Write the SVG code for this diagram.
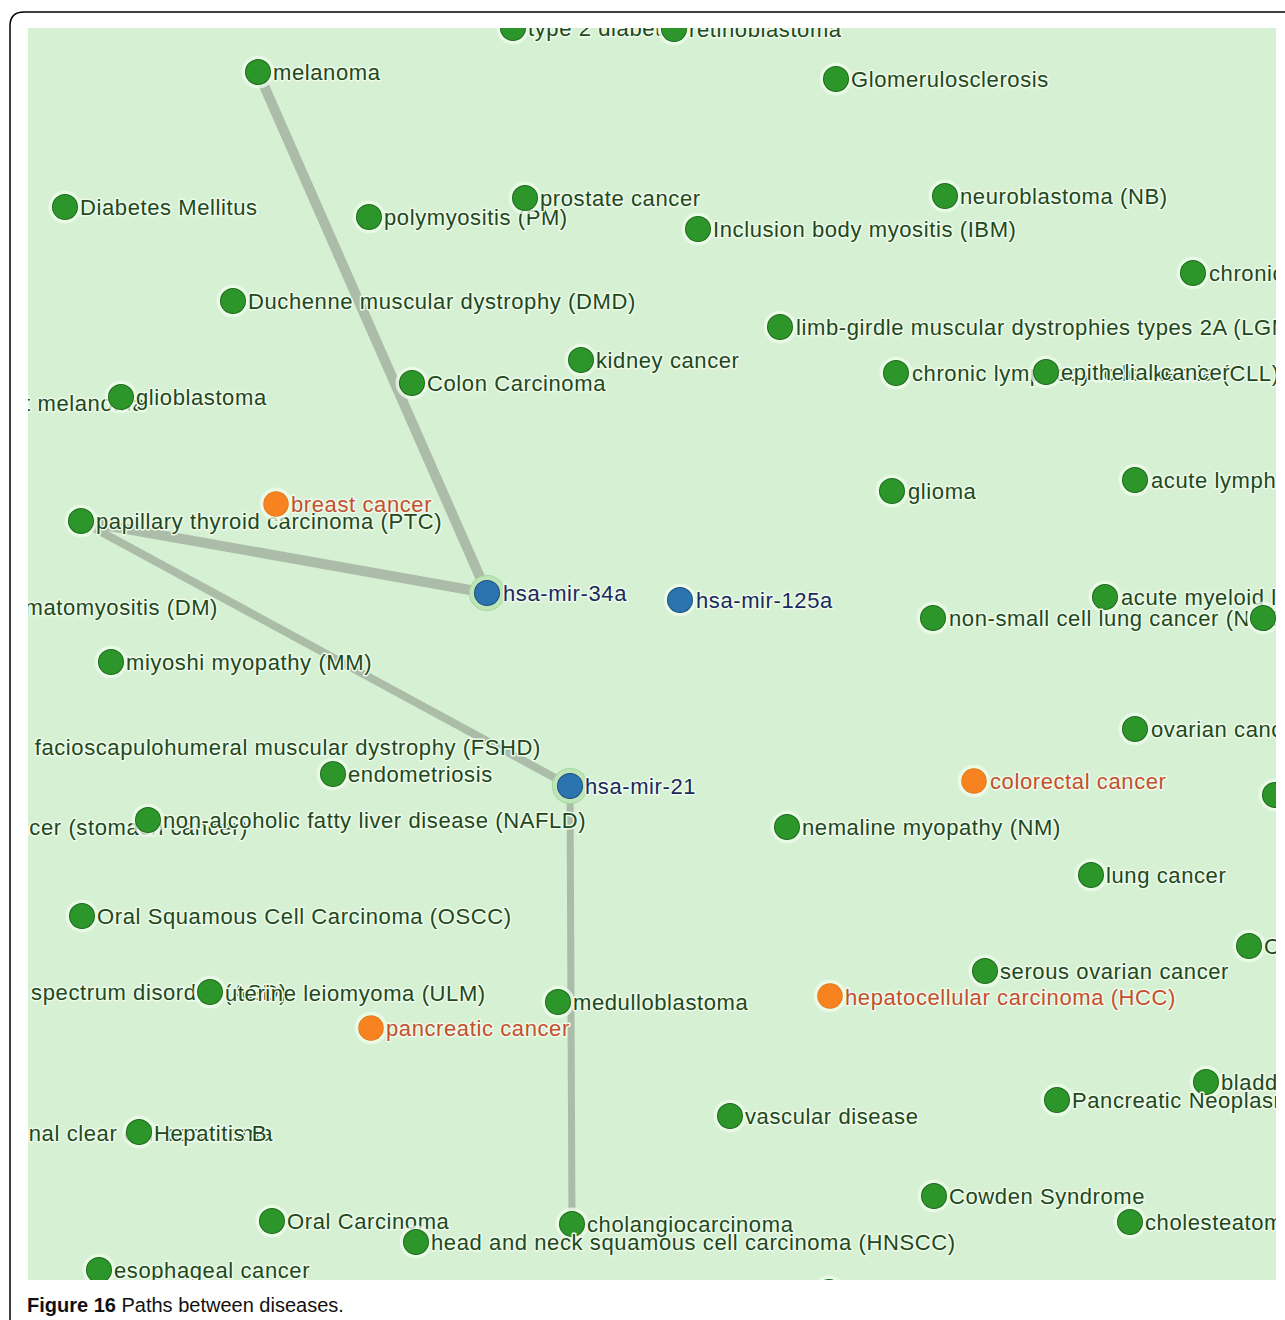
<svg xmlns="http://www.w3.org/2000/svg" width="1285" height="1320" viewBox="0 0 1285 1320">
<style>
.lbl{font-family:"Liberation Sans",Arial,sans-serif;font-size:22px;letter-spacing:0.6px;paint-order:stroke;stroke:#eefbea;stroke-width:3px;stroke-linejoin:round}
.g text{fill:#22481d}
.o text{fill:#c4502e}
.b text{fill:#1b2a5c}
.g circle.n{fill:#2d962b;stroke:#1c6a1a;stroke-width:2}
.o circle.n{fill:#f6831f;stroke:#e07414;stroke-width:1.5}
.b circle.n{fill:#2c74b0;stroke:#1d4e7c;stroke-width:2}
circle.h{fill:#f2fff0;opacity:.75}
circle.r{fill:#bfe6b8;stroke:#a6d9a0;stroke-width:2}
.e{stroke:#a9b8a5;stroke-linecap:round;fill:none;opacity:.95}
.cap{font-family:"Liberation Sans",Arial,sans-serif;font-size:20px;fill:#111}
</style>
<defs>
<clipPath id="area"><rect x="28" y="28" width="1248" height="1252"/></clipPath>
</defs>
<rect width="1285" height="1320" fill="#fff"/>
<path d="M10,1320 V26 Q10,12 24,12 H1285" fill="none" stroke="#000" stroke-width="1.5"/>
<rect x="28" y="28" width="1248" height="1252" fill="#d5f0d3"/>
<g clip-path="url(#area)">
<g id="connectors">
<line class="e" x1="258" y1="72" x2="487" y2="593" stroke-width="10"/>
<line class="e" x1="81" y1="521" x2="487" y2="593" stroke-width="10"/>
<line class="e" x1="81" y1="521" x2="570" y2="786" stroke-width="8"/>
<line class="e" x1="570" y1="786" x2="572" y2="1224" stroke-width="7"/>
</g>
<g class="lbl">
<g id="n-type2" class="g"><circle class="h" cx="513" cy="28" r="15"/><circle class="n" cx="513" cy="28" r="12"/><text x="528" y="36">type 2 diabetes</text></g>
<g id="n-retino" class="g"><circle class="h" cx="674" cy="29" r="15"/><circle class="n" cx="674" cy="29" r="12"/><text x="689" y="37">retinoblastoma</text></g>
<g id="n-melanoma" class="g"><circle class="h" cx="258" cy="72" r="15"/><circle class="n" cx="258" cy="72" r="12"/><text x="273" y="80">melanoma</text></g>
<g id="n-glomerulo" class="g"><circle class="h" cx="836" cy="79" r="15"/><circle class="n" cx="836" cy="79" r="12"/><text x="851" y="87">Glomerulosclerosis</text></g>
<g id="n-diabetes" class="g"><circle class="h" cx="65" cy="207" r="15"/><circle class="n" cx="65" cy="207" r="12"/><text x="80" y="215">Diabetes Mellitus</text></g>
<g id="n-polymyositis" class="g"><circle class="h" cx="369" cy="217" r="15"/><circle class="n" cx="369" cy="217" r="12"/><text x="384" y="225">polymyositis (PM)</text></g>
<g id="n-prostate" class="g"><circle class="h" cx="525" cy="198" r="15"/><circle class="n" cx="525" cy="198" r="12"/><text x="540" y="206">prostate cancer</text></g>
<g id="n-neuroblastoma" class="g"><circle class="h" cx="945" cy="196" r="15"/><circle class="n" cx="945" cy="196" r="12"/><text x="960" y="204">neuroblastoma (NB)</text></g>
<g id="n-ibm" class="g"><circle class="h" cx="698" cy="229" r="15"/><circle class="n" cx="698" cy="229" r="12"/><text x="713" y="237">Inclusion body myositis (IBM)</text></g>
<g id="n-chroni" class="g"><circle class="h" cx="1193" cy="273" r="15"/><circle class="n" cx="1193" cy="273" r="12"/><text x="1209" y="281">chronic</text></g>
<g id="n-dmd" class="g"><circle class="h" cx="233" cy="301" r="15"/><circle class="n" cx="233" cy="301" r="12"/><text x="248" y="309">Duchenne muscular dystrophy (DMD)</text></g>
<g id="n-lgmd" class="g"><circle class="h" cx="780" cy="327" r="15"/><circle class="n" cx="780" cy="327" r="12"/><text x="796" y="335">limb-girdle muscular dystrophies types 2A (LGMD2A)</text></g>
<g id="n-kidney" class="g"><circle class="h" cx="581" cy="360" r="15"/><circle class="n" cx="581" cy="360" r="12"/><text x="596" y="368">kidney cancer</text></g>
<g id="n-colon" class="g"><circle class="h" cx="412" cy="383" r="15"/><circle class="n" cx="412" cy="383" r="12"/><text x="427" y="391">Colon Carcinoma</text></g>
<g id="n-cll" class="g"><circle class="h" cx="896" cy="373" r="15"/><circle class="n" cx="896" cy="373" r="12"/><text x="912" y="381">chronic lymphocytic leukemia (CLL)</text></g>
<g id="n-epithelial" class="g"><circle class="h" cx="1046" cy="372" r="15"/><circle class="n" cx="1046" cy="372" r="12"/><text x="1061" y="380">epithelial cancer</text></g>
<g id="n-malmelanoma" class="g"><text x="-70" y="411">malignant melanoma</text></g>
<g id="n-glioblastoma" class="g"><circle class="h" cx="121" cy="397" r="15"/><circle class="n" cx="121" cy="397" r="12"/><text x="136" y="405">glioblastoma</text></g>
<g id="n-glioma" class="g"><circle class="h" cx="892" cy="491" r="15"/><circle class="n" cx="892" cy="491" r="12"/><text x="908" y="499">glioma</text></g>
<g id="n-all" class="g"><circle class="h" cx="1135" cy="480" r="15"/><circle class="n" cx="1135" cy="480" r="12"/><text x="1151" y="488">acute lymphoblastic leukemia</text></g>
<g id="n-ptc" class="g"><circle class="h" cx="81" cy="521" r="15"/><circle class="n" cx="81" cy="521" r="12"/><text x="96" y="529">papillary thyroid carcinoma (PTC)</text></g>
<g id="n-breast" class="o"><circle class="h" cx="276" cy="504" r="15"/><circle class="n" cx="276" cy="504" r="12"/><text x="291" y="512">breast cancer</text></g>
<g id="n-aml" class="g"><circle class="h" cx="1105" cy="597" r="15"/><circle class="n" cx="1105" cy="597" r="12"/><text x="1121" y="605">acute myeloid leukemia</text></g>
<g id="n-nsclc" class="g"><circle class="h" cx="933" cy="618" r="15"/><circle class="n" cx="933" cy="618" r="12"/><text x="949" y="626">non-small cell lung cancer (NSCLC)</text></g>
<g id="n-edge1" class="g"><circle class="h" cx="1263" cy="618" r="15"/><circle class="n" cx="1263" cy="618" r="12"/></g>
<g id="n-dm" class="g"><text x="218" y="615" text-anchor="end">dermatomyositis (DM)</text></g>
<g id="n-mm" class="g"><circle class="h" cx="111" cy="662" r="15"/><circle class="n" cx="111" cy="662" r="12"/><text x="126" y="670">miyoshi myopathy (MM)</text></g>
<g id="n-fshd" class="g"><text x="541" y="755" text-anchor="end">facioscapulohumeral muscular dystrophy (FSHD)</text></g>
<g id="n-ovarian" class="g"><circle class="h" cx="1135" cy="729" r="15"/><circle class="n" cx="1135" cy="729" r="12"/><text x="1151" y="737">ovarian cancer</text></g>
<g id="n-endometriosis" class="g"><circle class="h" cx="333" cy="774" r="15"/><circle class="n" cx="333" cy="774" r="12"/><text x="348" y="782">endometriosis</text></g>
<g id="n-colorectal" class="o"><circle class="h" cx="974" cy="781" r="15"/><circle class="n" cx="974" cy="781" r="12"/><text x="990" y="789">colorectal cancer</text></g>
<g id="n-edge2" class="g"><circle class="h" cx="1275" cy="795" r="15"/><circle class="n" cx="1275" cy="795" r="12"/></g>
<g id="n-gastric" class="g"><text x="248" y="835" text-anchor="end">gastric cancer (stomach cancer)</text></g>
<g id="n-nafld" class="g"><circle class="h" cx="148" cy="820" r="15"/><circle class="n" cx="148" cy="820" r="12"/><text x="163" y="828">non-alcoholic fatty liver disease (NAFLD)</text></g>
<g id="n-nm" class="g"><circle class="h" cx="787" cy="827" r="15"/><circle class="n" cx="787" cy="827" r="12"/><text x="802" y="835">nemaline myopathy (NM)</text></g>
<g id="n-lung" class="g"><circle class="h" cx="1091" cy="875" r="15"/><circle class="n" cx="1091" cy="875" r="12"/><text x="1106" y="883">lung cancer</text></g>
<g id="n-oscc" class="g"><circle class="h" cx="82" cy="916" r="15"/><circle class="n" cx="82" cy="916" r="12"/><text x="97" y="924">Oral Squamous Cell Carcinoma (OSCC)</text></g>
<g id="n-cervical" class="g"><circle class="h" cx="1249" cy="946" r="15"/><circle class="n" cx="1249" cy="946" r="12"/><text x="1264" y="954">Cervical cancer</text></g>
<g id="n-serous" class="g"><circle class="h" cx="985" cy="971" r="15"/><circle class="n" cx="985" cy="971" r="12"/><text x="1000" y="979">serous ovarian cancer</text></g>
<g id="n-asd" class="g"><text x="287" y="1000" text-anchor="end">autism spectrum disorder (ASD)</text></g>
<g id="n-ulm" class="g"><circle class="h" cx="210" cy="992" r="15"/><circle class="n" cx="210" cy="992" r="12"/><text x="225" y="1001">uterine leiomyoma (ULM)</text></g>
<g id="n-medullo" class="g"><circle class="h" cx="558" cy="1002" r="15"/><circle class="n" cx="558" cy="1002" r="12"/><text x="573" y="1010">medulloblastoma</text></g>
<g id="n-hcc" class="o"><circle class="h" cx="830" cy="996" r="15"/><circle class="n" cx="830" cy="996" r="12"/><text x="845" y="1005">hepatocellular carcinoma (HCC)</text></g>
<g id="n-pancreatic" class="o"><circle class="h" cx="371" cy="1028" r="15"/><circle class="n" cx="371" cy="1028" r="12"/><text x="386" y="1036">pancreatic cancer</text></g>
<g id="n-bladder" class="g"><circle class="h" cx="1206" cy="1082" r="15"/><circle class="n" cx="1206" cy="1082" r="12"/><text x="1221" y="1090">bladder cancer</text></g>
<g id="n-pneo" class="g"><circle class="h" cx="1057" cy="1100" r="15"/><circle class="n" cx="1057" cy="1100" r="12"/><text x="1072" y="1108">Pancreatic Neoplasms</text></g>
<g id="n-vascular" class="g"><circle class="h" cx="730" cy="1116" r="15"/><circle class="n" cx="730" cy="1116" r="12"/><text x="745" y="1124">vascular disease</text></g>
<g id="n-rcc" class="g"><text x="8" y="1141">renal clear cell carcinoma</text></g>
<g id="n-hepb" class="g"><circle class="h" cx="139" cy="1132" r="15"/><circle class="n" cx="139" cy="1132" r="12"/><text x="154" y="1141">Hepatitis B</text></g>
<g id="n-cowden" class="g"><circle class="h" cx="934" cy="1196" r="15"/><circle class="n" cx="934" cy="1196" r="12"/><text x="949" y="1204">Cowden Syndrome</text></g>
<g id="n-cholest" class="g"><circle class="h" cx="1130" cy="1222" r="15"/><circle class="n" cx="1130" cy="1222" r="12"/><text x="1145" y="1230">cholesteatoma</text></g>
<g id="n-oralcarc" class="g"><circle class="h" cx="272" cy="1221" r="15"/><circle class="n" cx="272" cy="1221" r="12"/><text x="287" y="1229">Oral Carcinoma</text></g>
<g id="n-cholangio" class="g"><circle class="h" cx="572" cy="1224" r="15"/><circle class="n" cx="572" cy="1224" r="12"/><text x="587" y="1232">cholangiocarcinoma</text></g>
<g id="n-hnscc" class="g"><circle class="h" cx="416" cy="1242" r="15"/><circle class="n" cx="416" cy="1242" r="12"/><text x="431" y="1250">head and neck squamous cell carcinoma (HNSCC)</text></g>
<g id="n-esophageal" class="g"><circle class="h" cx="99" cy="1270" r="15"/><circle class="n" cx="99" cy="1270" r="12"/><text x="114" y="1278">esophageal cancer</text></g>
<g id="n-bottom" class="g"><circle class="h" cx="829" cy="1292" r="15"/><circle class="n" cx="829" cy="1292" r="12"/></g>
<g id="n-mir34a" class="b"><circle class="r" cx="487" cy="593" r="17"/><circle class="n" cx="487" cy="593" r="12"/><text x="503" y="601">hsa-mir-34a</text></g>
<g id="n-mir125a" class="b"><circle class="h" cx="680" cy="600" r="15"/><circle class="n" cx="680" cy="600" r="12"/><text x="696" y="608">hsa-mir-125a</text></g>
<g id="n-mir21" class="b"><circle class="r" cx="570" cy="786" r="17"/><circle class="n" cx="570" cy="786" r="12"/><text x="585" y="794">hsa-mir-21</text></g>
</g>
</g>
<text class="cap" x="27" y="1312"><tspan font-weight="bold">Figure 16</tspan> Paths between diseases.</text>
</svg>
